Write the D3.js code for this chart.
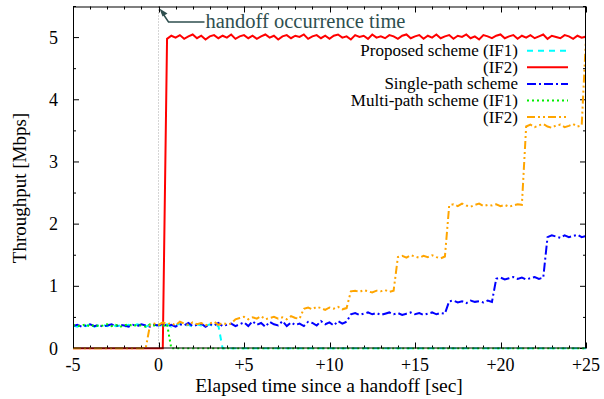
<!DOCTYPE html>
<html>
<head>
<meta charset="utf-8">
<script src="https://cdn.jsdelivr.net/npm/d3@7"></script>
<style>
  body { margin: 0; background: #fff; }
  svg { display: block; }
</style>
</head>
<body>
<div class="canvas"></div>
<script>
// DATA ----------------------------------------------------------------------
// samples every 0.25 s from -5 to +25 (121 points)
const timeStep = 0.25;
const times = d3.range(-5, 25 + timeStep / 2, timeStep);

const xTicks = [-5, 0, 5, 10, 15, 20, 25];
const xTickLabels = ['-5', '0', '+5', '+10', '+15', '+20', '+25'];
const yTicks = [0, 1, 2, 3, 4, 5];

const legendLabels = ['Proposed scheme (IF1)', '(IF2)', 'Single-path scheme', 'Multi-path scheme (IF1)', '(IF2)'];

const proposedIF1 = [
  0.37,0.35,0.38,0.36,0.39,0.35,0.37,0.38,0.36,0.39,0.36,0.37,0.35,0.38,0.36,0.39,0.37,0.35,0.38,0.36,
  0.38,0.36,0.39,0.35,0.37,0.40,0.36,0.38,0.35,0.39,0.37,0.36,0.39,0.35,0.37,0,0,0,0,0,
  0,0,0,0,0,0,0,0,0,0,0,0,0,0,0,0,0,0,0,0,
  0,0,0,0,0,0,0,0,0,0,0,0,0,0,0,0,0,0,0,0,
  0,0,0,0,0,0,0,0,0,0,0,0,0,0,0,0,0,0,0,0,
  0,0,0,0,0,0,0,0,0,0,0,0,0,0,0,0,0,0,0,0,
  0
];
const proposedIF2 = [
  0,0,0,0,0,0,0,0,0,0,0,0,0,0,0,0,0,0,0,0,
  0,0,4.98,5.03,5.00,5.04,4.98,5.02,5.05,4.99,5.03,4.97,5.02,5.04,4.99,5.03,5.00,5.05,4.98,5.02,
  5.04,4.99,5.03,4.98,5.02,5.05,5.00,5.03,4.97,5.02,5.04,4.99,5.03,5.01,5.05,4.98,5.02,5.04,4.99,5.03,
  4.98,5.03,5.05,5.00,5.02,4.97,5.04,5.01,5.03,4.98,5.05,5.00,5.02,4.99,5.04,5.02,4.98,5.03,5.05,4.99,
  5.02,5.04,4.98,5.03,5.00,5.05,4.99,5.02,5.04,4.98,5.03,5.01,5.05,4.99,5.02,4.97,5.04,5.02,4.99,5.03,
  5.05,4.99,5.02,5.04,4.98,5.03,5.00,5.04,4.99,5.02,5.05,4.98,5.03,5.01,4.99,5.04,5.02,4.98,5.03,5.00,
  5.02
];
const singlePath = [
  0.36,0.38,0.35,0.37,0.39,0.36,0.38,0.35,0.37,0.39,0.36,0.38,0.37,0.35,0.38,0.36,0.39,0.37,0.35,0.38,
  0.37,0.40,0.36,0.38,0.35,0.39,0.37,0.41,0.36,0.38,0.40,0.35,0.39,0.37,0.41,0.36,0.38,0.40,0.36,0.39,
  0.42,0.36,0.44,0.38,0.41,0.35,0.43,0.39,0.37,0.44,0.36,0.42,0.38,0.40,0.36,0.43,0.41,0.37,0.44,0.39,
  0.42,0.37,0.44,0.40,0.43,0.55,0.57,0.54,0.56,0.58,0.55,0.57,0.54,0.56,0.58,0.55,0.57,0.54,0.56,0.58,
  0.55,0.57,0.54,0.56,0.58,0.55,0.57,0.56,0.76,0.77,0.74,0.76,0.73,0.77,0.75,0.76,0.74,0.77,0.75,1.12,
  1.14,1.11,1.13,1.15,1.12,1.14,1.11,1.13,1.15,1.12,1.14,1.79,1.82,1.80,1.78,1.82,1.79,1.81,1.83,1.79,
  1.81
];
const multiIF1 = [
  0.38,0.36,0.37,0.39,0.35,0.38,0.36,0.37,0.39,0.36,0.38,0.35,0.37,0.39,0.36,0.38,0.37,0.35,0.39,0.37,
  0.38,0.36,0.39,0,0,0,0,0,0,0,0,0,0,0,0,0,0,0,0,0,
  0,0,0,0,0,0,0,0,0,0,0,0,0,0,0,0,0,0,0,0,
  0,0,0,0,0,0,0,0,0,0,0,0,0,0,0,0,0,0,0,0,
  0,0,0,0,0,0,0,0,0,0,0,0,0,0,0,0,0,0,0,0,
  0,0,0,0,0,0,0,0,0,0,0,0,0,0,0,0,0,0,0,0,
  0
];
const multiIF2 = [
  0,0,0,0,0,0,0,0,0,0,0,0,0,0,0,0,0,0,0.37,0.40,
  0.38,0.42,0.39,0.41,0.37,0.43,0.40,0.38,0.42,0.39,0.41,0.37,0.40,0.43,0.38,0.41,0.39,0.40,0.47,0.49,
  0.51,0.47,0.50,0.48,0.52,0.47,0.49,0.51,0.48,0.50,0.47,0.52,0.49,0.48,0.64,0.66,0.63,0.67,0.65,0.62,
  0.66,0.64,0.67,0.63,0.65,0.92,0.93,0.91,0.94,0.92,0.90,0.93,0.92,0.94,0.91,0.93,1.47,1.49,1.46,1.50,
  1.48,1.46,1.49,1.47,1.50,1.47,1.45,1.48,2.30,2.32,2.29,2.33,2.30,2.28,2.31,2.33,2.29,2.31,2.30,2.32,
  2.29,2.31,2.28,2.30,2.32,2.31,3.57,3.60,3.56,3.59,3.61,3.57,3.55,3.59,3.60,3.56,3.58,3.61,3.57,3.59,
  5.00
];

// SET UP GRAPH --------------------------------------------------------------
const width = 604, height = 399;
const margin = { top: 6.5, right: 18, bottom: 50.5, left: 73 };
const graphWidth = width - margin.left - margin.right;
const graphHeight = height - margin.top - margin.bottom;
const serif = "'Liberation Serif', 'DejaVu Serif', 'Times New Roman', Times, serif";

const svg = d3.select('.canvas')
  .append('svg')
    .attr('width', width)
    .attr('height', height)
    .attr('font-family', serif);

const graph = svg.append('g')
  .attr('transform', `translate(${margin.left}, ${margin.top})`);

const x = d3.scaleLinear().domain([-5, 25]).range([0, graphWidth]);
const y = d3.scaleLinear().domain([0, 5.5]).range([graphHeight, 0]);

// Ticks (inward, mirrored on all sides)
const tickGroup = graph.append('g').attr('stroke', '#000').attr('stroke-width', 1);
const xMinor = d3.range(-5, 25.01, 1);
const yMinor = d3.range(0, 5.51, 0.5);
xMinor.forEach(v => {
  const len = xTicks.includes(v) ? 6 : 3;
  const px = Math.round(x(v)) + 0.5;
  tickGroup.append('line').attr('x1', px).attr('x2', px).attr('y1', graphHeight).attr('y2', graphHeight - len);
  tickGroup.append('line').attr('x1', px).attr('x2', px).attr('y1', 0).attr('y2', len);
});
yMinor.forEach(v => {
  const len = yTicks.includes(v) ? 6 : 3;
  const py = y(v);
  tickGroup.append('line').attr('x1', 0).attr('x2', len).attr('y1', py).attr('y2', py);
  tickGroup.append('line').attr('x1', graphWidth).attr('x2', graphWidth - len).attr('y1', py).attr('y2', py);
});

// Tick labels
graph.selectAll('.xlabel').data(xTicks).enter()
  .append('text')
    .attr('x', d => x(d))
    .attr('y', graphHeight + 22)
    .attr('text-anchor', 'middle')
    .style('font-size', '18px')
    .text((d, i) => xTickLabels[i]);

graph.selectAll('.ylabel').data(yTicks).enter()
  .append('text')
    .attr('x', -15)
    .attr('y', d => y(d) + 6)
    .attr('text-anchor', 'end')
    .style('font-size', '18px')
    .text(d => d);

// Axis titles
svg.append('text')
  .attr('x', 329)
  .attr('y', 392)
  .attr('text-anchor', 'middle')
  .style('font-size', '19.5px')
  .text('Elapsed time since a handoff [sec]');

svg.append('text')
  .attr('transform', `translate(26, 188) rotate(-90)`)
  .attr('text-anchor', 'middle')
  .style('font-size', '19px')
  .text('Throughput [Mbps]');

// Handoff marker
graph.append('line')
  .attr('x1', x(0)).attr('x2', x(0))
  .attr('y1', 0).attr('y2', graphHeight)
  .attr('stroke', '#aaa')
  .attr('stroke-width', 1)
  .attr('stroke-dasharray', '1,2');

// SERIES --------------------------------------------------------------------
const series = [
  { values: proposedIF1, color: '#00ffff', dash: '6,5' },
  { values: proposedIF2, color: '#ff0000', dash: null },
  { values: singlePath,  color: '#0000ff', dash: '9,3,2,3' },
  { values: multiIF1,    color: '#00ee00', dash: '2,3' },
  { values: multiIF2,    color: '#ffa500', dash: '8,3,2,3,2,3' }
];

const line = d3.line()
  .x((d, i) => x(times[i]))
  .y(d => y(d));

svg.append('clipPath').attr('id', 'plotclip')
  .append('rect').attr('x', 0).attr('y', 0).attr('width', graphWidth).attr('height', graphHeight + 1);

graph.append('g').attr('clip-path', 'url(#plotclip)')
  .selectAll('path').data(series).enter()
  .append('path')
    .attr('d', d => line(d.values))
    .attr('fill', 'none')
    .attr('stroke', d => d.color)
    .attr('stroke-width', 2)
    .attr('stroke-dasharray', d => d.dash);

// Frame
graph.append('rect')
  .attr('x', 0.5).attr('y', 0.5)
  .attr('width', graphWidth - 1).attr('height', graphHeight - 1)
  .attr('fill', 'none')
  .attr('stroke', '#000')
  .attr('stroke-width', 1);

// Annotation arrow + text
const annColor = '#2f4f4f';
const tip = [x(0) + 1, 2];
graph.append('path')
  .attr('d', `M${tip[0] + 2},${tip[1] + 3} L${tip[0] + 9},${tip[1] + 13.5} L${tip[0] + 45},${tip[1] + 13.5}`)
  .attr('fill', 'none')
  .attr('stroke', annColor)
  .attr('stroke-width', 1.5);
graph.append('path')
  .attr('d', `M${tip[0]},${tip[1]} L${tip[0] + 8},${tip[1] + 5} L${tip[0] + 3},${tip[1] + 8} Z`)
  .attr('fill', annColor);
graph.append('text')
  .attr('x', tip[0] + 46)
  .attr('y', tip[1] + 19)
  .attr('fill', annColor)
  .style('font-size', '20.5px')
  .text('handoff occurrence time');

// LEGEND --------------------------------------------------------------------
const legend = svg.append('g');
series.forEach((s, i) => {
  const cy = 50.7 + i * 16.6;
  legend.append('text')
    .attr('x', 518)
    .attr('y', cy + 5.5)
    .attr('text-anchor', 'end')
    .style('font-size', '17px')
    .text(legendLabels[i]);
  legend.append('line')
    .attr('x1', 527).attr('x2', 568)
    .attr('y1', cy).attr('y2', cy)
    .attr('stroke', s.color)
    .attr('stroke-width', 2)
    .attr('stroke-dasharray', s.dash);
});
</script>
</body>
</html>
